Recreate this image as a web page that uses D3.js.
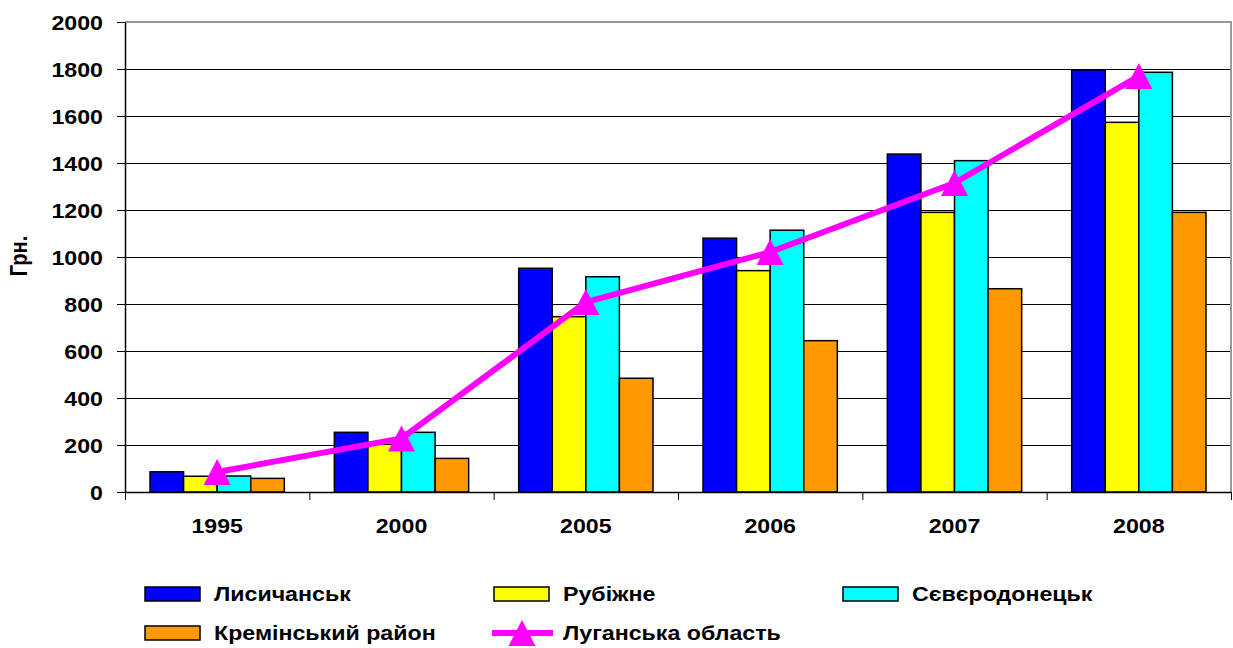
<!DOCTYPE html>
<html><head><meta charset="utf-8">
<script src="https://cdn.jsdelivr.net/npm/d3@7"></script>
<style>
html,body{margin:0;padding:0;background:#fff;}
svg text{font-family:"Liberation Sans",Arial,sans-serif;font-weight:bold;fill:#000;}
</style></head>
<body>
<svg id="c" width="1233" height="648"></svg>
<script>
const years = ["1995","2000","2005","2006","2007","2008"];
const seriesNames = ["Лисичанськ","Рубіжне","Сєвєродонецьк","Кремінський район"];
const lysychansk = [86, 254, 952, 1080, 1438, 1796];
const rubizhne = [67, 203, 746, 942, 1190, 1573];
const sievierodonetsk = [68, 254, 916, 1114, 1410, 1786];
const kreminskyi = [58, 143, 484, 644, 865, 1190];
const luhanskOblast = [85, 228, 808, 1021, 1315, 1770];
const lineName = "Луганська область";
const yTicks = [0,200,400,600,800,1000,1200,1400,1600,1800,2000];
const yTitle = "Грн.";
const colors = ["#0000FF","#FFFF00","#00FFFF","#FF9900"];
const lineColor = "#FF00FF";

const barData = [lysychansk, rubizhne, sievierodonetsk, kreminskyi];
const SX = 1.16; // horizontal text stretch
const FS = 20;

const svg = d3.select("#c");
const L = 125, R = 1231, T = 22, B = 492;

const x0 = d3.scaleBand().domain(years).range([L, R]).paddingInner(0).paddingOuter(0);
const x1 = d3.scaleBand().domain(seriesNames).range([0, x0.bandwidth()]).paddingInner(0).paddingOuter(0.745);
const y = d3.scaleLinear().domain([0, 2000]).range([B, T]);

// gridlines
svg.append("g").selectAll("line").data(yTicks.filter(v => v > 0 && v < 2000)).join("line")
  .attr("x1", L).attr("x2", R).attr("y1", d => Math.round(y(d)) + 0.5).attr("y2", d => Math.round(y(d)) + 0.5)
  .attr("stroke", "#000").attr("stroke-width", 1);

// plot border top/right
svg.append("path").attr("d", `M${L},${T} H${R} V${B}`).attr("fill", "none").attr("stroke", "#999").attr("stroke-width", 2);

// bars
const gBars = svg.append("g");
years.forEach((yr, i) => {
  seriesNames.forEach((s, j) => {
    gBars.append("rect")
      .attr("x", x0(yr) + x1(s))
      .attr("y", y(barData[j][i]))
      .attr("width", x1.bandwidth())
      .attr("height", B - y(barData[j][i]))
      .attr("fill", colors[j])
      .attr("stroke", "#000").attr("stroke-width", 1.5);
  });
});

// axes
const yAxis = svg.append("g").attr("transform", `translate(${L},0)`)
  .call(d3.axisLeft(y).tickValues(yTicks).tickSize(8).tickSizeOuter(0).tickFormat(d3.format("d")));
yAxis.select(".domain").attr("stroke", "#000").attr("stroke-width", 1.5);
yAxis.selectAll(".tick line").attr("stroke", "#000");
yAxis.selectAll(".tick text").attr("font-size", FS).attr("font-family", null)
  .attr("x", -22 / SX).attr("dy", "0.35em").attr("transform", `scale(${SX},1)`);

const xb = d3.scaleLinear().domain([0, years.length]).range([L, R]);
const xAxisTicks = svg.append("g").attr("transform", `translate(0,${B})`)
  .call(d3.axisBottom(xb).ticks(years.length).tickSize(8).tickSizeOuter(0).tickFormat(""));
xAxisTicks.select(".domain").attr("stroke", "#000").attr("stroke-width", 1.5);
xAxisTicks.selectAll(".tick line").attr("stroke", "#000");

const xAxis = svg.append("g").attr("transform", `translate(0,${B})`)
  .call(d3.axisBottom(x0).tickSize(0).tickPadding(0));
xAxis.select(".domain").remove();
xAxis.selectAll(".tick text").attr("font-size", FS).attr("font-family", null)
  .attr("y", 41).attr("dy", 0).attr("transform", `scale(${SX},1)`).attr("x", 0);

// y title
svg.append("text").attr("transform", `translate(27,256) rotate(-90) scale(1,${SX})`)
  .attr("text-anchor", "middle").attr("font-size", FS).text(yTitle);

// line
const cx = d => x0(d) + x0.bandwidth() / 2;
const line = d3.line().x((d, i) => cx(years[i])).y(d => y(d));
svg.append("path").datum(luhanskOblast).attr("d", line)
  .attr("fill", "none").attr("stroke", lineColor).attr("stroke-width", 6).attr("stroke-linejoin", "round");
const tri = "M0,-13 L13.5,13 L-13.5,13 Z";
svg.append("g").selectAll("path").data(luhanskOblast).join("path")
  .attr("d", tri).attr("transform", (d, i) => `translate(${cx(years[i])},${y(d)})`)
  .attr("fill", lineColor);

// legend
const legendItems = [
  {name: seriesNames[0], type: "bar", color: colors[0], x: 145, y: 594},
  {name: seriesNames[1], type: "bar", color: colors[1], x: 494, y: 594},
  {name: seriesNames[2], type: "bar", color: colors[2], x: 843, y: 594},
  {name: seriesNames[3], type: "bar", color: colors[3], x: 145, y: 633},
  {name: lineName, type: "line", color: lineColor, x: 494, y: 633}
];
const lg = svg.append("g");
legendItems.forEach(it => {
  const g = lg.append("g").attr("transform", `translate(${it.x},${it.y})`);
  if (it.type === "bar") {
    g.append("rect").attr("x", 0).attr("y", -7).attr("width", 55).attr("height", 14)
      .attr("fill", it.color).attr("stroke", "#000").attr("stroke-width", 1.5);
  } else {
    g.append("line").attr("x1", -2).attr("x2", 59).attr("y1", 0).attr("y2", 0)
      .attr("stroke", it.color).attr("stroke-width", 6);
    g.append("path").attr("d", tri).attr("transform", "translate(28,0)").attr("fill", it.color);
  }
  g.append("text").attr("transform", `translate(69,0) scale(${SX},1)`)
    .attr("dy", "0.35em").attr("font-size", FS).text(it.name);
});
</script>
</body></html>
